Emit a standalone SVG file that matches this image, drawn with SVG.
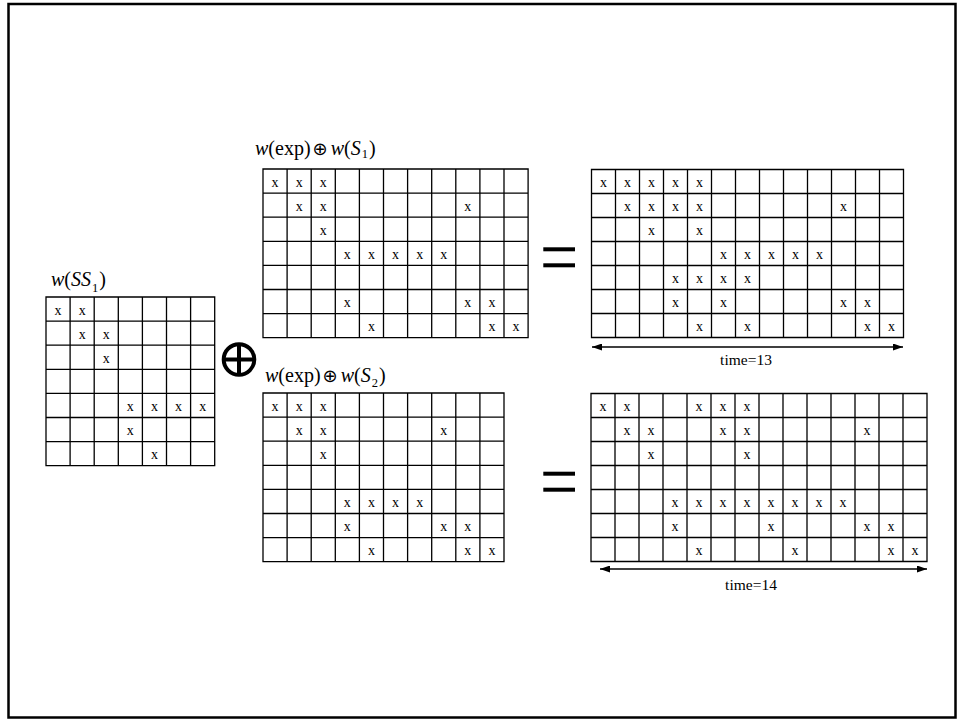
<svg xmlns="http://www.w3.org/2000/svg" width="959" height="721" viewBox="0 0 959 721">
<defs>
<style>
.grid{fill:none;stroke:#000;stroke-width:1.3}
.x{font-family:"Liberation Serif","Times New Roman",serif;font-size:14px;text-anchor:middle;fill:#000}
.lbl{font-family:"Liberation Serif","Times New Roman",serif;font-size:20px;fill:#000}
.it{font-style:italic}
.sub{font-size:12.5px}
.op{font-family:"DejaVu Sans",sans-serif;font-size:18px}
.time{font-family:"Liberation Serif","Times New Roman",serif;font-size:15.5px;text-anchor:middle;fill:#000}
.bar{fill:#000}
.arr{stroke:#000;stroke-width:1.6;fill:none;marker-start:url(#ah);marker-end:url(#ah)}
</style>
<marker id="ah" viewBox="0 0 10 7" refX="10" refY="3.5" markerWidth="10" markerHeight="7" markerUnits="userSpaceOnUse" orient="auto-start-reverse">
<path d="M0,0 L10,3.5 L0,7 z" fill="#000"/>
</marker>
</defs>
<rect x="0" y="0" width="959" height="721" fill="#fff"/>
<rect id="frame" x="8.5" y="4" width="947" height="713.5" fill="none" stroke="#000" stroke-width="2.5"/>

<!-- Left matrix w(SS1) -->
<g id="grid-ss1">
<text x="51" y="286" class="lbl"><tspan class="it">w</tspan>(<tspan class="it">SS</tspan><tspan class="sub" dy="6" dx="1">1</tspan><tspan dy="-6" dx="1">)</tspan></text>
<g transform="translate(46,297)">
<path class="grid" d="M0 0H168.7V168.7H0Z M24.1 0V168.7M48.2 0V168.7M72.3 0V168.7M96.4 0V168.7M120.5 0V168.7M144.6 0V168.7 M0 24.1H168.7M0 48.2H168.7M0 72.3H168.7M0 96.4H168.7M0 120.5H168.7M0 144.6H168.7"/>
<text class="x" x="12.05" y="17.5">x</text><text class="x" x="36.15" y="17.5">x</text>
<text class="x" x="36.15" y="41.6">x</text><text class="x" x="60.25" y="41.6">x</text>
<text class="x" x="60.25" y="65.7">x</text>
<text class="x" x="84.35" y="113.9">x</text><text class="x" x="108.45" y="113.9">x</text><text class="x" x="132.55" y="113.9">x</text><text class="x" x="156.65" y="113.9">x</text>
<text class="x" x="84.35" y="138">x</text>
<text class="x" x="108.45" y="162.1">x</text>
</g>
</g>

<!-- Big XOR operator -->
<g id="op-xor">
<circle cx="239" cy="359.5" r="15.3" fill="none" stroke="#000" stroke-width="4"/>
<path d="M239 344.2V374.8M223.7 359.5H254.3" stroke="#000" stroke-width="4"/>
</g>

<!-- Top middle matrix -->
<g id="grid-s1">
<text x="255" y="155" class="lbl"><tspan class="it">w</tspan>(exp)<tspan class="op" dx="2">⊕</tspan><tspan class="it" dx="3">w</tspan>(<tspan class="it">S</tspan><tspan class="sub" dy="3" dx="1">1</tspan><tspan dy="-3" dx="1">)</tspan></text>
<g transform="translate(263,169)">
<path class="grid" d="M0 0H265.1V168.7H0Z M24.1 0V168.7M48.2 0V168.7M72.3 0V168.7M96.4 0V168.7M120.5 0V168.7M144.6 0V168.7M168.7 0V168.7M192.8 0V168.7M216.9 0V168.7M241 0V168.7 M0 24.1H265.1M0 48.2H265.1M0 72.3H265.1M0 96.4H265.1M0 120.5H265.1M0 144.6H265.1"/>
<text class="x" x="12.05" y="17.5">x</text><text class="x" x="36.15" y="17.5">x</text><text class="x" x="60.25" y="17.5">x</text>
<text class="x" x="36.15" y="41.6">x</text><text class="x" x="60.25" y="41.6">x</text><text class="x" x="204.85" y="41.6">x</text>
<text class="x" x="60.25" y="65.7">x</text>
<text class="x" x="84.35" y="89.8">x</text><text class="x" x="108.45" y="89.8">x</text><text class="x" x="132.55" y="89.8">x</text><text class="x" x="156.65" y="89.8">x</text><text class="x" x="180.75" y="89.8">x</text>
<text class="x" x="84.35" y="138">x</text><text class="x" x="204.85" y="138">x</text><text class="x" x="228.95" y="138">x</text>
<text class="x" x="108.45" y="162.1">x</text><text class="x" x="228.95" y="162.1">x</text><text class="x" x="253.05" y="162.1">x</text>
</g>
</g>

<!-- Top equals -->
<g id="eq-top">
<rect class="bar" x="543.3" y="247.3" width="31.7" height="4"/>
<rect class="bar" x="543.3" y="263.3" width="31.7" height="4"/>
</g>

<!-- Top right result -->
<g id="grid-r13">
<g transform="translate(591.5,169.5)">
<path class="grid" d="M0 0H312V168H0Z M24 0V168M48 0V168M72 0V168M96 0V168M120 0V168M144 0V168M168 0V168M192 0V168M216 0V168M240 0V168M264 0V168M288 0V168 M0 24H312M0 48H312M0 72H312M0 96H312M0 120H312M0 144H312"/>
<text class="x" x="12" y="17.5">x</text><text class="x" x="36" y="17.5">x</text><text class="x" x="60" y="17.5">x</text><text class="x" x="84" y="17.5">x</text><text class="x" x="108" y="17.5">x</text>
<text class="x" x="36" y="41.5">x</text><text class="x" x="60" y="41.5">x</text><text class="x" x="84" y="41.5">x</text><text class="x" x="108" y="41.5">x</text><text class="x" x="252" y="41.5">x</text>
<text class="x" x="60" y="65.5">x</text><text class="x" x="108" y="65.5">x</text>
<text class="x" x="132" y="89.5">x</text><text class="x" x="156" y="89.5">x</text><text class="x" x="180" y="89.5">x</text><text class="x" x="204" y="89.5">x</text><text class="x" x="228" y="89.5">x</text>
<text class="x" x="84" y="113.5">x</text><text class="x" x="108" y="113.5">x</text><text class="x" x="132" y="113.5">x</text><text class="x" x="156" y="113.5">x</text>
<text class="x" x="84" y="137.5">x</text><text class="x" x="132" y="137.5">x</text><text class="x" x="252" y="137.5">x</text><text class="x" x="276" y="137.5">x</text>
<text class="x" x="108" y="161.5">x</text><text class="x" x="156" y="161.5">x</text><text class="x" x="276" y="161.5">x</text><text class="x" x="300" y="161.5">x</text>
</g>
<text class="time" x="746" y="365">time=13</text>
</g>

<!-- Bottom middle matrix -->
<g id="grid-s2">
<text x="265" y="382" class="lbl"><tspan class="it">w</tspan>(exp)<tspan class="op" dx="2">⊕</tspan><tspan class="it" dx="3">w</tspan>(<tspan class="it">S</tspan><tspan class="sub" dy="5" dx="1">2</tspan><tspan dy="-5" dx="1">)</tspan></text>
<g transform="translate(263,393)">
<path class="grid" d="M0 0H241V168.7H0Z M24.1 0V168.7M48.2 0V168.7M72.3 0V168.7M96.4 0V168.7M120.5 0V168.7M144.6 0V168.7M168.7 0V168.7M192.8 0V168.7M216.9 0V168.7 M0 24.1H241M0 48.2H241M0 72.3H241M0 96.4H241M0 120.5H241M0 144.6H241"/>
<text class="x" x="12.05" y="17.5">x</text><text class="x" x="36.15" y="17.5">x</text><text class="x" x="60.25" y="17.5">x</text>
<text class="x" x="36.15" y="41.6">x</text><text class="x" x="60.25" y="41.6">x</text><text class="x" x="180.75" y="41.6">x</text>
<text class="x" x="60.25" y="65.7">x</text>
<text class="x" x="84.35" y="113.9">x</text><text class="x" x="108.45" y="113.9">x</text><text class="x" x="132.55" y="113.9">x</text><text class="x" x="156.65" y="113.9">x</text>
<text class="x" x="84.35" y="138">x</text><text class="x" x="180.75" y="138">x</text><text class="x" x="204.85" y="138">x</text>
<text class="x" x="108.45" y="162.1">x</text><text class="x" x="204.85" y="162.1">x</text><text class="x" x="228.95" y="162.1">x</text>
</g>
</g>

<!-- Bottom equals -->
<g id="eq-bottom">
<rect class="bar" x="543.3" y="471.7" width="31.7" height="4"/>
<rect class="bar" x="543.3" y="487.7" width="31.7" height="4"/>
</g>

<!-- Bottom right result -->
<g id="grid-r14">
<g transform="translate(591,393.5)">
<path class="grid" d="M0 0H336V168H0Z M24 0V168M48 0V168M72 0V168M96 0V168M120 0V168M144 0V168M168 0V168M192 0V168M216 0V168M240 0V168M264 0V168M288 0V168M312 0V168 M0 24H336M0 48H336M0 72H336M0 96H336M0 120H336M0 144H336"/>
<text class="x" x="12" y="17.5">x</text><text class="x" x="36" y="17.5">x</text><text class="x" x="108" y="17.5">x</text><text class="x" x="132" y="17.5">x</text><text class="x" x="156" y="17.5">x</text>
<text class="x" x="36" y="41.5">x</text><text class="x" x="60" y="41.5">x</text><text class="x" x="132" y="41.5">x</text><text class="x" x="156" y="41.5">x</text><text class="x" x="276" y="41.5">x</text>
<text class="x" x="60" y="65.5">x</text><text class="x" x="156" y="65.5">x</text>
<text class="x" x="84" y="113.5">x</text><text class="x" x="108" y="113.5">x</text><text class="x" x="132" y="113.5">x</text><text class="x" x="156" y="113.5">x</text><text class="x" x="180" y="113.5">x</text><text class="x" x="204" y="113.5">x</text><text class="x" x="228" y="113.5">x</text><text class="x" x="252" y="113.5">x</text>
<text class="x" x="84" y="137.5">x</text><text class="x" x="180" y="137.5">x</text><text class="x" x="276" y="137.5">x</text><text class="x" x="300" y="137.5">x</text>
<text class="x" x="108" y="161.5">x</text><text class="x" x="204" y="161.5">x</text><text class="x" x="300" y="161.5">x</text><text class="x" x="324" y="161.5">x</text>
</g>
<text class="time" x="751" y="590">time=14</text>
</g>

<!-- Connectors: time span arrows -->
<g id="connectors">
<line class="arr" x1="592" y1="347" x2="903" y2="347"/>
<line class="arr" x1="600" y1="569" x2="927" y2="569"/>
</g>
</svg>
